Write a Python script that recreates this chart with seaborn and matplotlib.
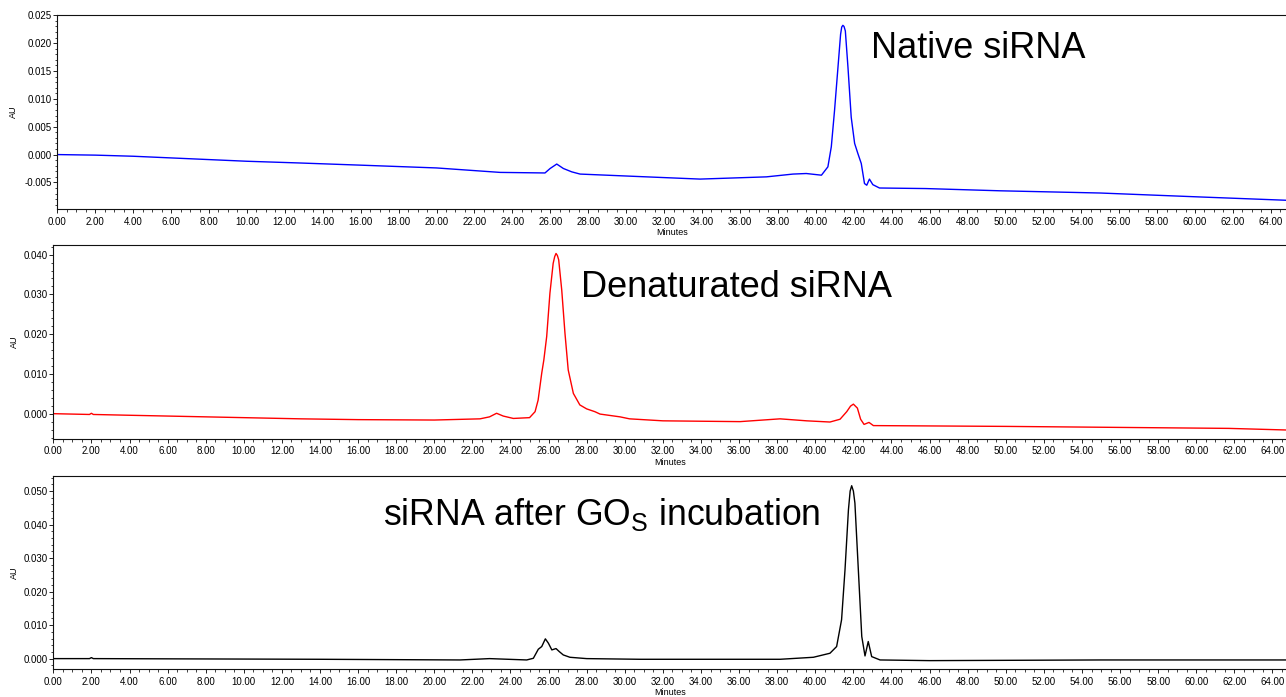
import matplotlib
matplotlib.use("Agg")
import matplotlib.pyplot as plt
import seaborn as sns
import pandas as pd
from matplotlib.ticker import MultipleLocator, FormatStrFormatter

# ---- data (time in minutes, absorbance in AU) ----
native_t = [0.0, 2.0, 4.0, 6.0, 8.0, 10.0, 12.7, 16.0, 20.0, 23.35, 25.72, 25.99,
            26.34, 26.69, 27.13, 27.57, 30.37, 33.9, 37.4, 38.8, 39.5, 40.3,
            40.64, 40.82, 40.99, 41.17, 41.31, 41.37, 41.43, 41.49, 41.56, 41.70,
            41.87, 42.05, 42.22, 42.40, 42.57, 42.69, 42.83, 43.01, 43.36, 45.8,
            49.7, 55.0, 60.2, 64.8]
native_au = [0.0000, -0.0001, -0.0003, -0.0006, -0.0009, -0.0012, -0.0015, -0.0019,
             -0.0024, -0.0032, -0.0033, -0.0025, -0.0017, -0.0025, -0.0031, -0.0035,
             -0.0039, -0.0044, -0.0040, -0.0035, -0.0034, -0.0037, -0.0022, 0.0014,
             0.0079, 0.0156, 0.0216, 0.0229, 0.0232, 0.0230, 0.0222, 0.0156, 0.0067,
             0.0020, 0.0002, -0.0016, -0.0052, -0.0055, -0.0044, -0.0054, -0.0060,
             -0.0061, -0.0065, -0.0069, -0.0076, -0.0082]

denat_t = [0.0, 1.9, 2.0, 2.1, 4.0, 6.0, 8.0, 10.0, 13.0, 16.0, 20.0, 22.4, 22.9,
           23.27, 23.62, 24.15, 25.0, 25.29, 25.45, 25.64, 25.75, 25.90, 26.07,
           26.24, 26.32, 26.39, 26.46, 26.53, 26.69, 26.86, 27.03, 27.30, 27.64,
           28.0, 28.43, 28.7, 29.75, 30.25, 32.0, 34.0, 36.05, 38.15, 39.55, 40.77,
           41.30, 41.65, 41.85, 42.0, 42.21, 42.38, 42.56, 42.82, 43.05, 46.55,
           50.0, 54.7, 61.7, 64.7]
denat_au = [0.0000, -0.0002, 0.0001, -0.0002, -0.0004, -0.0006, -0.0008, -0.0010,
            -0.0013, -0.0015, -0.0016, -0.0013, -0.0008, 0.0001, -0.0006, -0.0012,
            -0.0010, 0.0005, 0.0034, 0.0102, 0.0135, 0.0194, 0.0303, 0.0378, 0.0395,
            0.0403, 0.0398, 0.0387, 0.0311, 0.0202, 0.0110, 0.0051, 0.0022, 0.0012,
            0.0005, -0.0001, -0.0008, -0.0013, -0.0018, -0.0019, -0.0020, -0.0013,
            -0.0018, -0.0021, -0.0014, 0.0005, 0.0019, 0.0024, 0.0014, -0.0014,
            -0.0027, -0.0022, -0.0030, -0.0031, -0.0032, -0.0034, -0.0037, -0.0041]

gos_t = [0.0, 1.9, 2.0, 2.1, 8.0, 14.0, 21.35, 22.9, 24.85, 25.2, 25.46, 25.64,
         25.83, 25.99, 26.17, 26.39, 26.56, 26.77, 27.12, 28.0, 30.8, 38.15, 39.9,
         40.77, 41.12, 41.38, 41.56, 41.74, 41.83, 41.91, 42.0, 42.08, 42.26,
         42.44, 42.61, 42.78, 42.96, 43.4, 46.0, 55.0, 64.7]
gos_au = [0.0000, 0.0000, 0.0003, 0.0000, -0.0001, -0.0002, -0.0004, 0.0000,
          -0.0004, 0.0001, 0.0028, 0.0036, 0.0059, 0.0046, 0.0026, 0.0030, 0.0021,
          0.0011, 0.0004, 0.0000, -0.0002, -0.0002, 0.0004, 0.0016, 0.0036, 0.0116,
          0.0265, 0.0444, 0.0500, 0.0516, 0.0500, 0.0464, 0.0265, 0.0066, 0.0008,
          0.0051, 0.0006, -0.0004, -0.0006, -0.0004, -0.0004]

labels = ["Native siRNA", "Denaturated siRNA", "siRNA after GO$_{\\mathrm{S}}$ incubation"]
colors = ["#0000ff", "#ff0000", "#000000"]
ylims = [(-0.00977, 0.025), (-0.00637, 0.0425), (-0.0031, 0.0545)]
xlims = [(0, 64.8), (0, 64.71), (0, 64.71)]
ymajor = [0.005, 0.010, 0.010]
yminor = [0.001, 0.002, 0.002]

sns.set_style("ticks")
plt.rcParams["font.family"] = ["Liberation Sans", "DejaVu Sans"]
plt.rcParams["mathtext.fontset"] = "custom"
plt.rcParams["mathtext.rm"] = "Liberation Sans"
plt.rcParams["mathtext.it"] = "Liberation Sans:italic"
for key in ["text.color", "axes.labelcolor", "xtick.color", "ytick.color"]:
    plt.rcParams[key] = "black"

fig = plt.figure(figsize=(12.86, 6.97), dpi=100)
positions = [[0.04456, 0.70014, 0.95544, 0.27791],
             [0.04145, 0.37016, 0.95855, 0.27876],
             [0.04145, 0.04017, 0.95855, 0.27690]]
ylab_x = [-0.0316, -0.0282, -0.0282]

series = [(native_t, native_au), (denat_t, denat_au), (gos_t, gos_au)]
for i, (t, au) in enumerate(series):
    ax = fig.add_axes(positions[i])
    df = pd.DataFrame({"Minutes": t, "AU": au})
    sns.lineplot(data=df, x="Minutes", y="AU", ax=ax, color=colors[i],
                 linewidth=1.0, sort=False, estimator=None)
    ax.set_xlim(*xlims[i])
    ax.set_ylim(*ylims[i])
    ax.xaxis.set_major_locator(MultipleLocator(2))
    ax.xaxis.set_minor_locator(MultipleLocator(0.5))
    ax.xaxis.set_major_formatter(FormatStrFormatter("%.2f"))
    ax.yaxis.set_major_locator(MultipleLocator(ymajor[i]))
    ax.yaxis.set_minor_locator(MultipleLocator(yminor[i]))
    ax.yaxis.set_major_formatter(FormatStrFormatter("%.3f"))
    ax.tick_params(axis="both", which="major", labelsize=7, length=3.2, width=0.7,
                   direction="out", color="#222222", labelcolor="black")
    ax.tick_params(axis="both", which="minor", length=1.8, width=0.6,
                   direction="out", color="#222222")
    ax.tick_params(axis="y", which="major", pad=0.8)
    ax.tick_params(axis="x", which="major", pad=2.2)
    for s in ["left", "bottom", "top"]:
        ax.spines[s].set_visible(True)
        ax.spines[s].set_linewidth(0.8)
        ax.spines[s].set_color("#111111")
    ax.spines["right"].set_visible(False)
    ax.set_xlabel("Minutes", fontsize=6.5, color="black")
    ax.set_ylabel("AU", fontsize=6.5, color="black")
    ax.xaxis.set_label_coords(0.5, -0.10)
    ax.yaxis.set_label_coords(ylab_x[i], 0.5)
    ax.grid(False)

# annotations (pixel positions converted to figure fraction)
W, H = 1286, 697
fig.text(871 / W, 1 - 58 / H, labels[0], fontsize=26, va="baseline", ha="left", color="black")
fig.text(581 / W, 1 - 297 / H, labels[1], fontsize=26, va="baseline", ha="left", color="black")
fig.text(383 / W, 1 - 525 / H, labels[2], fontsize=25.7, va="baseline", ha="left", color="black")

fig.savefig("out.png", dpi=100)
